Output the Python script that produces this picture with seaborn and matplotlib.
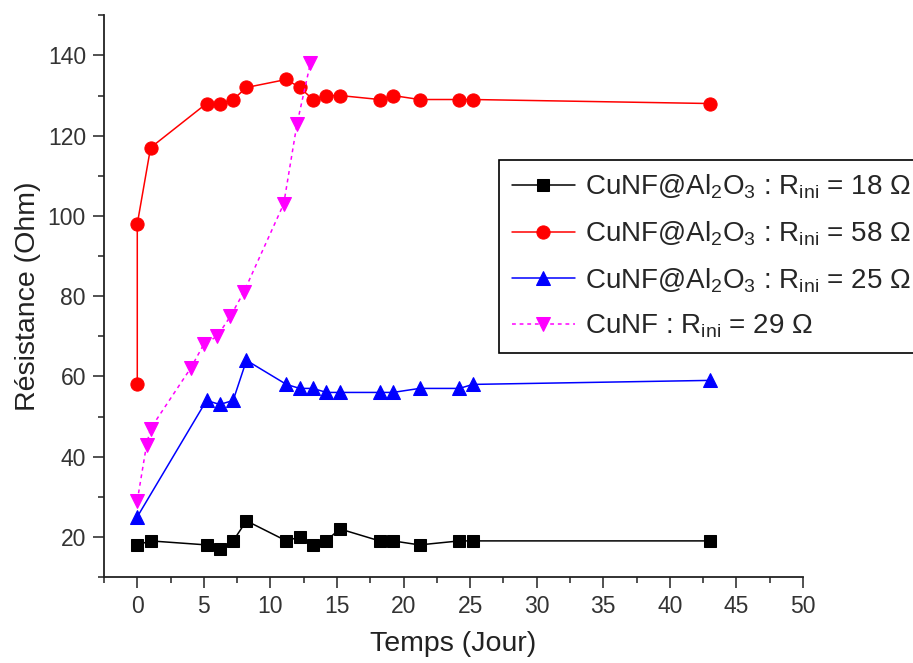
import matplotlib
matplotlib.use("Agg")
import matplotlib.pyplot as plt
import seaborn as sns
import pandas as pd
from matplotlib.ticker import MultipleLocator

# Data (days, ohm)
x_18 = [0, 1, 5.2, 6.2, 7.2, 8.2, 11.2, 12.2, 13.2, 14.2, 15.2, 18.2, 19.2, 21.2, 24.2, 25.2, 43]
r_18 = [18, 19, 18, 17, 19, 24, 19, 20, 18, 19, 22, 19, 19, 18, 19, 19, 19]

x_58 = [0, 0, 1, 5.2, 6.2, 7.2, 8.2, 11.2, 12.2, 13.2, 14.2, 15.2, 18.2, 19.2, 21.2, 24.2, 25.2, 43]
r_58 = [58, 98, 117, 128, 128, 129, 132, 134, 132, 129, 130, 130, 129, 130, 129, 129, 129, 128]

x_25 = [0, 5.2, 6.2, 7.2, 8.2, 11.2, 12.2, 13.2, 14.2, 15.2, 18.2, 19.2, 21.2, 24.2, 25.2, 43]
r_25 = [25, 54, 53, 54, 64, 58, 57, 57, 56, 56, 56, 56, 57, 57, 58, 59]

x_29 = [0, 0.7, 1, 4, 5, 6, 7, 8, 11, 12, 13]
r_29 = [29, 43, 47, 62, 68, 70, 75, 81, 103, 123, 138]

labels = [
    r"CuNF@Al$_2$O$_3$ : R$_{ini}$ = 18 Ω",
    r"CuNF@Al$_2$O$_3$ : R$_{ini}$ = 58 Ω",
    r"CuNF@Al$_2$O$_3$ : R$_{ini}$ = 25 Ω",
    r"CuNF : R$_{ini}$ = 29 Ω",
]

sns.set_style("ticks")
plt.rcParams["font.family"] = ["Liberation Sans", "DejaVu Sans"]
plt.rcParams["mathtext.default"] = "regular"

fig = plt.figure(figsize=(9.13, 6.63), dpi=100)
ax = fig.add_axes([0.1139, 0.1297, 0.7656, 0.8473])

series = [
    (x_18, r_18, "black", "s", 8.5, (None, None)),
    (x_58, r_58, "#ff0000", "o", 9.5, (None, None)),
    (x_25, r_25, "#0000ff", "^", 10, (None, None)),
    (x_29, r_29, "#ff00ff", "v", 10, (2.5, 2.5)),
]

for (xs, ys, col, mk, ms, dash), lab in zip(series, labels):
    df = pd.DataFrame({"t": xs, "r": ys})
    line_ax = sns.lineplot(data=df, x="t", y="r", ax=ax, color=col, marker=mk,
                           markersize=ms, markeredgecolor=col,
                           linewidth=1.1, estimator=None, sort=False, label=lab)
    if dash[0] is not None:
        line_ax.lines[-1].set_dashes(dash)

ax.set_xlim(-2.5, 50)
ax.set_ylim(10, 150)
ax.xaxis.set_major_locator(MultipleLocator(5))
ax.xaxis.set_minor_locator(MultipleLocator(2.5))
ax.yaxis.set_minor_locator(MultipleLocator(10))
ax.set_yticks([20, 40, 60, 80, 100, 120, 140])
ax.tick_params(which="major", length=8, width=1.2, labelsize=16.5, colors="#333333", pad=5)
ax.tick_params(which="minor", length=4.5, width=1.2, colors="#333333")
for s in ["left", "bottom"]:
    ax.spines[s].set_linewidth(1.3)
    ax.spines[s].set_color("#222222")
sns.despine(ax=ax)

ax.set_xlabel("Temps (Jour)", fontsize=20.5, color="#222222", labelpad=9)
ax.set_ylabel("Résistance (Ohm)", fontsize=20.5, color="#222222", labelpad=5)

leg = ax.legend(loc="upper left", bbox_to_anchor=(0.5466, 0.7587),
                bbox_transform=fig.transFigure, fontsize=20, frameon=True,
                fancybox=False, edgecolor="black", framealpha=1,
                handlelength=2.3, handletextpad=0.35, labelspacing=0.66,
                borderpad=0.45, borderaxespad=0)
leg.get_frame().set_linewidth(1.2)
leg.get_lines()[3].set_dashes((2.5, 2.5))

fig.savefig("out.png", dpi=100)
